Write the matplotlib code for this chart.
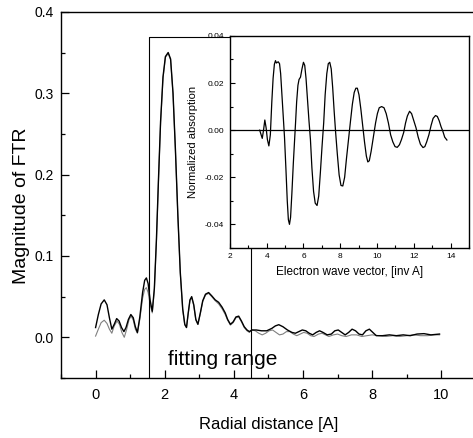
import matplotlib
matplotlib.use("Agg")
import matplotlib.pyplot as plt
from matplotlib.ticker import MultipleLocator, FormatStrFormatter

plt.rcParams['font.family'] = ['Liberation Sans', 'DejaVu Sans']

# FTR magnitude, experiment (black)
r_exp = [0.00, 0.08, 0.16, 0.25, 0.33, 0.40, 0.47, 0.54, 0.61, 0.68, 0.75, 0.82, 0.88, 0.95,
         1.02, 1.09, 1.15, 1.21, 1.28, 1.36, 1.42, 1.47, 1.52, 1.58, 1.64, 1.70, 1.76, 1.82,
         1.88, 1.95, 2.02, 2.10, 2.17, 2.24, 2.31, 2.38, 2.45, 2.52, 2.58, 2.63, 2.68, 2.73,
         2.78, 2.84, 2.90, 2.96, 3.03, 3.10, 3.18, 3.27, 3.36, 3.46, 3.56, 3.66, 3.75, 3.82,
         3.90, 3.98, 4.06, 4.14, 4.22, 4.30, 4.38, 4.45, 4.52, 4.65, 4.80, 4.95, 5.10, 5.20,
         5.30, 5.42, 5.55, 5.68, 5.78, 5.88, 5.98, 6.08, 6.18, 6.28, 6.38, 6.48, 6.58, 6.70,
         6.82, 6.92, 7.02, 7.12, 7.22, 7.32, 7.42, 7.52, 7.62, 7.72, 7.82, 7.92, 8.02, 8.12,
         8.30, 8.50, 8.70, 8.90, 9.10, 9.30, 9.50, 9.70, 9.95]
m_exp = [0.012, 0.028, 0.041, 0.046, 0.040, 0.024, 0.010, 0.016, 0.023, 0.020, 0.012, 0.007, 0.012, 0.022,
         0.028, 0.024, 0.013, 0.006, 0.025, 0.055, 0.070, 0.073, 0.066, 0.045, 0.032, 0.060, 0.120, 0.195,
         0.265, 0.320, 0.345, 0.350, 0.342, 0.300, 0.230, 0.150, 0.080, 0.035, 0.016, 0.012, 0.030, 0.046,
         0.050, 0.040, 0.022, 0.016, 0.030, 0.045, 0.053, 0.055, 0.051, 0.046, 0.043, 0.037, 0.030, 0.022,
         0.016, 0.019, 0.025, 0.026, 0.020, 0.013, 0.009, 0.007, 0.009, 0.009, 0.008, 0.008, 0.011, 0.014,
         0.0155, 0.013, 0.009, 0.006, 0.005, 0.007, 0.009, 0.008, 0.005, 0.003, 0.006, 0.008, 0.006, 0.003,
         0.004, 0.008, 0.009, 0.006, 0.003, 0.006, 0.010, 0.008, 0.004, 0.003, 0.008, 0.010, 0.006, 0.002,
         0.002, 0.003, 0.002, 0.003, 0.002, 0.004, 0.0045, 0.003, 0.004]

# FTR magnitude, fit (grey)
r_fit = [0.00, 0.08, 0.16, 0.25, 0.33, 0.40, 0.47, 0.54, 0.62, 0.69, 0.76, 0.83, 0.90, 0.97,
         1.03, 1.09, 1.15, 1.21, 1.28, 1.36, 1.42, 1.47, 1.52, 1.58, 1.64, 1.70, 1.76, 1.82,
         1.88, 1.95, 2.02, 2.10, 2.17, 2.24, 2.31, 2.38, 2.45, 2.52, 2.58, 2.63, 2.68, 2.73,
         2.78, 2.84, 2.90, 2.96, 3.03, 3.10, 3.18, 3.27, 3.36, 3.46, 3.56, 3.66, 3.75, 3.82,
         3.90, 3.98, 4.06, 4.14, 4.22, 4.30, 4.38, 4.45, 4.52, 4.62, 4.72, 4.82, 4.92, 5.02,
         5.12, 5.22, 5.32, 5.42, 5.52, 5.62, 5.72, 5.82, 5.92, 6.02, 6.12, 6.22, 6.32, 6.45,
         6.55, 6.65, 6.75, 6.88, 7.00, 7.12, 7.25, 7.40, 7.55, 7.70, 7.85, 8.00, 8.20, 8.40,
         8.60, 8.80, 9.00, 9.20, 9.40, 9.60, 9.80, 9.95]
m_fit = [0.0015, 0.010, 0.018, 0.021, 0.017, 0.010, 0.005, 0.014, 0.020, 0.016, 0.006, 0.000, 0.010, 0.022,
         0.026, 0.021, 0.010, 0.005, 0.022, 0.048, 0.059, 0.061, 0.055, 0.040, 0.030, 0.058, 0.118, 0.193,
         0.263, 0.318, 0.344, 0.349, 0.341, 0.299, 0.229, 0.149, 0.079, 0.034, 0.015, 0.012, 0.029, 0.045,
         0.049, 0.039, 0.021, 0.016, 0.029, 0.044, 0.052, 0.054, 0.050, 0.045, 0.041, 0.035, 0.028, 0.021,
         0.015, 0.018, 0.024, 0.025, 0.019, 0.012, 0.008, 0.006, 0.009, 0.008, 0.005, 0.003, 0.005, 0.008,
         0.009, 0.006, 0.003, 0.004, 0.007, 0.007, 0.004, 0.002, 0.004, 0.006, 0.005, 0.002, 0.001, 0.004,
         0.005, 0.003, 0.001, 0.003, 0.004, 0.002, 0.001, 0.003, 0.003, 0.001, 0.002, 0.003, 0.002, 0.001,
         0.002, 0.001, 0.002, 0.003, 0.002, 0.002, 0.003, 0.003]

# EXAFS oscillations for the inset
k_inset = [3.62, 3.70, 3.76, 3.83, 3.90, 3.97, 4.04, 4.12, 4.20, 4.28, 4.35, 4.42, 4.48, 4.53,
           4.58, 4.63, 4.70, 4.76, 4.83, 4.90, 4.97, 5.05, 5.12, 5.18, 5.24, 5.30, 5.37, 5.45,
           5.52, 5.57, 5.63, 5.70, 5.76, 5.84, 5.92, 6.00, 6.07, 6.14, 6.22, 6.30, 6.38, 6.46,
           6.55, 6.64, 6.74, 6.83, 6.92, 7.01, 7.10, 7.18, 7.27, 7.35, 7.43, 7.51, 7.59, 7.67,
           7.75, 7.84, 7.94, 8.04, 8.14, 8.24, 8.34, 8.45, 8.56, 8.66, 8.76, 8.85, 8.93, 9.02,
           9.12, 9.22, 9.32, 9.42, 9.50, 9.58, 9.68, 9.80, 9.92, 10.02, 10.12, 10.25, 10.38, 10.50,
           10.62, 10.74, 10.86, 10.98, 11.10, 11.22, 11.33, 11.45, 11.55, 11.65, 11.77, 11.88, 12.00, 12.12,
           12.24, 12.36, 12.50, 12.60, 12.70, 12.82, 12.94, 13.05, 13.18, 13.28, 13.38, 13.48, 13.58, 13.68,
           13.80]
chi_inset = [0.000, -0.002, -0.0035, 0.000, 0.0043, 0.001, -0.004, -0.0067, -0.002, 0.012, 0.022, 0.028, 0.0295, 0.0285,
             0.0288, 0.029, 0.0282, 0.024, 0.015, 0.006, -0.003, -0.017, -0.030, -0.038, -0.040, -0.037, -0.027, -0.014,
             -0.004, 0.003, 0.012, 0.019, 0.0215, 0.0225, 0.026, 0.0288, 0.0275, 0.022, 0.013, 0.004, -0.004, -0.016,
             -0.026, -0.031, -0.032, -0.028, -0.018, -0.007, 0.003, 0.015, 0.024, 0.0282, 0.0288, 0.026, 0.018, 0.008,
             -0.001, -0.010, -0.019, -0.0235, -0.0237, -0.020, -0.012, -0.004, 0.004, 0.011, 0.016, 0.0178, 0.0178, 0.015,
             0.009, 0.002, -0.005, -0.011, -0.0135, -0.013, -0.009, -0.003, 0.003, 0.007, 0.0095, 0.010, 0.0095, 0.007,
             0.003, -0.002, -0.005, -0.007, -0.0073, -0.0062, -0.004, -0.001, 0.003, 0.006, 0.008, 0.007, 0.004, 0.001,
             -0.003, -0.006, -0.0074, -0.007, -0.005, -0.002, 0.002, 0.005, 0.0062, 0.0058, 0.004, 0.0015, -0.0005, -0.003,
             -0.0042]

fit_lo, fit_hi, fit_top = 1.55, 4.5, 0.369

fig = plt.figure(figsize=(4.73, 4.38), dpi=100)
ax = fig.add_axes([0.129, 0.137, 0.877, 0.836])

ax.plot(r_fit, m_fit, color='#808080', lw=0.8)
ax.plot(r_exp, m_exp, color='black', lw=1.0)
# fitting range box
ax.plot([fit_lo, fit_lo, fit_hi, fit_hi], [-0.05, fit_top, fit_top, -0.05], color='black', lw=0.8)
ax.text(2.1, -0.034, "fitting range", fontsize=15)

ax.set_xlim(-1, 11)
ax.set_ylim(-0.05, 0.4)
ax.xaxis.set_major_locator(MultipleLocator(2))
ax.xaxis.set_minor_locator(MultipleLocator(1))
ax.yaxis.set_major_locator(MultipleLocator(0.1))
ax.yaxis.set_minor_locator(MultipleLocator(0.05))
ax.yaxis.set_major_formatter(FormatStrFormatter('%.1f'))
ax.tick_params(which='both', direction='in', labelsize=10.5, width=0.9)
ax.tick_params(which='major', length=6, pad=7)
ax.tick_params(which='minor', length=3)
ax.tick_params(axis='y', which='major', pad=5, labelsize=10)
ax.spines['right'].set_visible(False)
for s in ['left', 'bottom', 'top']:
    ax.spines[s].set_linewidth(1.0)
ax.set_xlabel("Radial distance [A]", fontsize=12, labelpad=11)
ax.set_ylabel("Magnitude of FTR", fontsize=14)
ax.yaxis.set_label_coords(-0.075, 0.47)

# inset
ins = fig.add_axes([0.486, 0.434, 0.5055, 0.484])
ins.set_facecolor('white')
ins.axhline(0, color='black', lw=0.9)
ins.plot(k_inset, chi_inset, color='black', lw=0.9)
ins.set_xlim(2, 15)
ins.set_ylim(-0.05, 0.04)
ins.xaxis.set_major_locator(MultipleLocator(2))
ins.xaxis.set_minor_locator(MultipleLocator(1))
ins.yaxis.set_major_locator(MultipleLocator(0.02))
ins.yaxis.set_minor_locator(MultipleLocator(0.01))
ins.yaxis.set_major_formatter(FormatStrFormatter('%.2f'))
ins.tick_params(which='both', direction='in', labelsize=6, width=0.8)
ins.tick_params(which='major', length=3.5, pad=4)
ins.tick_params(which='minor', length=2)
for s in ins.spines.values():
    s.set_linewidth(1.0)
ins.set_xlabel("Electron wave vector, [inv A]", fontsize=8.5, labelpad=4)
ins.set_ylabel("Normalized absorption", fontsize=8, labelpad=5)

fig.savefig("out.png", dpi=100)
